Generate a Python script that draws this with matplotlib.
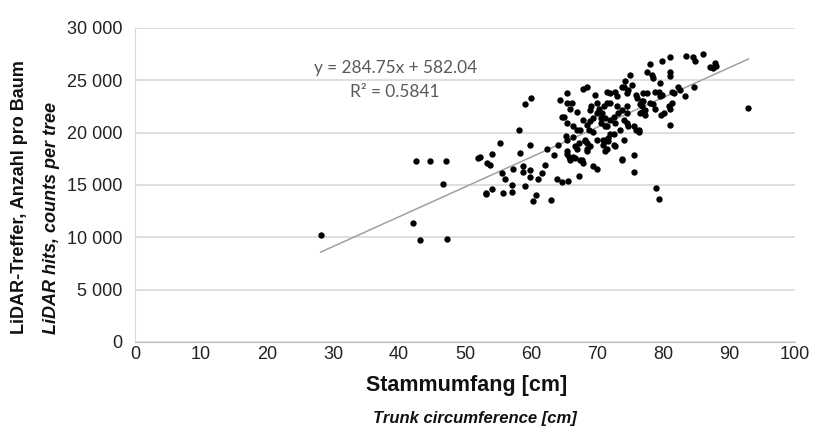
import matplotlib
matplotlib.use('Agg')
import matplotlib.pyplot as plt
from matplotlib.ticker import FuncFormatter

# trunk circumference [cm] and LiDAR hits per tree
circ = [28.1, 42.1, 42.5, 44.7, 47.1, 46.7, 43.2, 47.2, 52.0, 53.3, 53.1, 55.3, 59.8, 58.3,
        54.0, 52.3, 53.8, 62.4, 64.1, 63.4, 57.3, 58.8, 58.8, 59.8, 62.1, 61.6, 61.1, 59.8,
        55.6, 56.1, 57.1, 59.1, 54.0, 53.2, 55.7, 57.1, 60.8, 60.3, 63.0, 63.9, 64.6, 65.5,
        67.2, 69.4, 69.9, 73.7, 75.5, 75.6, 78.9, 79.3, 92.9, 60.0, 59.0, 58.2, 65.4, 64.4,
        65.4, 64.6, 65.4,
        67.9, 68.4, 68.9, 68.7, 66.9, 66.4, 67.2, 68.2, 68.9, 68.4, 69.9, 70.9, 71.5, 72.5,
        71.2, 72.0, 72.7, 73.5, 74.5, 73.7, 73.0, 72.0, 71.0, 69.9, 70.5, 74.0, 74.7, 74.0,
        66.9, 66.4, 67.7, 65.9, 65.4, 64.9, 66.4, 67.4, 69.4, 70.7, 71.2, 72.0, 72.5, 73.2,
        74.5, 75.5, 76.3, 76.8, 76.5, 77.3, 74.5, 65.9, 66.9, 68.9, 70.2, 71.5, 70.5, 71.5,
        69.4, 72.5, 65.2,
        83.3, 82.6, 82.3, 81.6, 81.3, 80.1, 80.8, 81.3, 81.1, 78.8, 78.0, 76.8, 76.5, 79.3,
        79.8, 77.5, 78.8, 79.5, 77.0, 77.0, 78.5, 79.6, 76.8, 77.3, 81.0, 75.8, 76.3,
        78.0, 79.8, 84.8, 87.1, 87.9, 77.5, 78.3, 78.5, 81.1, 81.1, 75.0, 79.5, 84.6, 74.2,
        74.0, 75.2, 74.7, 74.5, 73.7, 71.5, 72.0, 72.7, 73.0, 75.8, 76.1, 68.4, 69.7, 69.9,
        67.9, 65.4, 66.2, 69.0,
        71.2, 71.7, 68.4, 68.4, 66.7, 65.4, 65.7, 66.7, 67.4, 67.9, 71.2, 72.7, 70.9, 71.7,
        68.2, 71.4, 73.7,
        81.0, 83.5, 84.5, 86.0, 88.0, 87.5]
hits = [10200, 11400, 17300, 17300, 17300, 15100, 9700, 9800, 17600, 17100, 14200, 19000, 18800, 18100,
        18000, 17700, 16900, 18400, 18800, 17900, 16500, 16800, 16200, 16400, 16900, 16100, 15600, 15800,
        16100, 15600, 15000, 14900, 14600, 14100, 14200, 14300, 14000, 13500, 13600, 15600, 15300, 15400,
        15900, 16800, 16500, 17400, 17900, 16200, 14700, 13700, 22400, 23300, 22700, 20300, 19300, 23100,
        22800, 21500, 20900,
        21200, 20700, 21100, 20300, 20300, 19600, 19000, 19200, 18700, 18200, 19300, 18800, 18400, 18800,
        20600, 19900, 20900, 20300, 21900, 22200, 22500, 22800, 22500, 21900, 21400, 21200, 20600, 19300,
        18400, 17700, 17400, 17400, 18000, 21500, 20600, 20300, 21400, 21900, 21400, 21200, 21500, 21900,
        20900, 20600, 20100, 22500, 21900, 21700, 22500, 22300, 22000, 22200, 22300, 22800, 20900, 20600,
        20100, 19900, 19700,
        23500, 24100, 24400, 23800, 23900, 21900, 22500, 22800, 22300, 22300, 22800, 23000, 22700, 23900,
        23600, 23800, 23900, 23500, 23800, 23000, 22700, 21700, 22000, 22200, 20700, 20300, 20300,
        26600, 26800, 26800, 26300, 26700, 25800, 25500, 25200, 25800, 25400, 25500, 24700, 24400, 24900,
        24400, 24600, 24100, 23800, 24400, 23900, 23800, 23900, 23500, 23600, 23300, 24400, 23600, 22800,
        24200, 23800, 22800, 22500,
        19200, 19200, 19000, 18400, 18700, 18200, 17700, 17600, 17400, 17100, 18200, 18700, 19300, 19500,
        19300, 19300, 17500,
        27200, 27300, 27200, 27500, 26400, 26200]

slope, intercept = 284.75, 582.04
fit_x = [min(circ), max(circ)]
fit_y = [slope * v + intercept for v in fit_x]

plt.rcParams['font.family'] = ['Liberation Sans', 'DejaVu Sans']

fig = plt.figure(figsize=(8.19, 4.30), dpi=100, facecolor='white')
ax = fig.add_axes([0.165, 0.2047, 0.806, 0.7302])

ax.grid(True, axis='y', color='#d9d9d9', linewidth=1.2, zorder=0)
ax.set_axisbelow(True)
ax.plot(fit_x, fit_y, color='#a0a0a0', linewidth=1.1, zorder=2)
ax.scatter(circ, hits, s=21, color='black', marker='o', linewidths=0, zorder=3)

ax.set_xlim(0, 100)
ax.set_ylim(0, 30000)
ax.set_xticks(range(0, 101, 10))
ax.set_yticks(range(0, 30001, 5000))
ax.yaxis.set_major_formatter(FuncFormatter(lambda v, p: f"{int(v):,}".replace(',', ' ')))
ax.tick_params(length=0, labelsize=13, colors='#222222')
ax.tick_params(axis='y', pad=9)
ax.tick_params(axis='x', pad=3)
for s in ['top', 'right']:
    ax.spines[s].set_visible(False)
ax.spines['left'].set_color('#d9d9d9')
ax.spines['bottom'].set_color('#bfbfbf')

ax.text(39.4, 26200, 'y = 284.75x + 582.04', ha='center', va='center',
        fontsize=12.4, color='#595959', family=['Lato', 'DejaVu Sans'])
ax.text(39.4, 23900, 'R² = 0.5841', ha='center', va='center',
        fontsize=12.4, color='#595959', family=['Lato', 'DejaVu Sans'])

fig.text(467 / 819, 1 - 385 / 430, 'Stammumfang [cm]', ha='center', va='center',
         fontsize=15.5, fontweight='bold', color='#111111')
fig.text(475 / 819, 1 - 419 / 430, 'Trunk circumference [cm]', ha='center', va='center',
         fontsize=12, fontweight='bold', style='italic', color='#111111')
fig.text(20 / 819, 1 - 334 / 430, 'LiDAR-Treffer, Anzahl pro Baum', rotation=90,
         ha='center', va='bottom', fontsize=13, fontweight='bold', color='#111111')
fig.text(52 / 819, 1 - 334 / 430, 'LiDAR hits, counts per tree', rotation=90,
         ha='center', va='bottom', fontsize=13, fontweight='bold', style='italic', color='#111111')

plt.savefig('out.png', dpi=100, facecolor='white')
